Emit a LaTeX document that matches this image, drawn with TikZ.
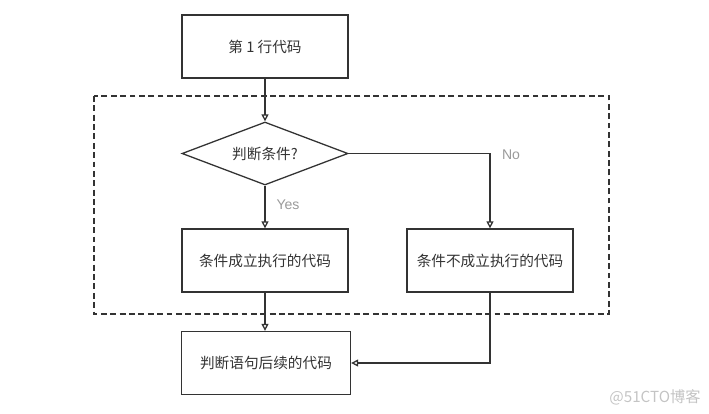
\documentclass[tikz,border=0pt]{standalone}
\usepackage{fontspec}
\newfontfamily\cjk{Noto Sans CJK SC}
\newfontfamily\latin{Liberation Sans}
\usetikzlibrary{shapes.geometric,arrows.meta}
\definecolor{linegray}{HTML}{333333}
\definecolor{labelgray}{HTML}{9A9A9A}
\definecolor{markgray}{HTML}{C4C4C4}
\begin{document}
\begin{tikzpicture}[x=0.03cm, y=-0.03cm,
		codebox/.style={draw=linegray, line width=1.1pt, minimum width=4.98cm, minimum height=1.89cm, font=\cjk\fontsize{12.5}{14}\selectfont, text=linegray},
		testbox/.style={diamond, aspect=2.63, draw=linegray, line width=1.1pt, minimum width=4.98cm, minimum height=1.89cm, inner sep=0pt, font=\cjk\fontsize{12.5}{14}\selectfont, text=linegray},
		flow/.style={draw=linegray, line width=1.1pt, -{Triangle[open, length=6pt, width=6pt]}},
		branch/.style={font=\latin\fontsize{12}{14}\selectfont, text=labelgray}]
		\useasboundingbox (0,0) rectangle (709,413);
		% the block that the condition covers
		\draw[linegray, line width=1pt, dash pattern=on 5pt off 3pt] (94,96) rectangle (609,314);
		\node[codebox] (first) at (265,46.5) {第 1 行代码};
		\node[testbox] (test) at (265,153.5) {判断条件?};
		\node[codebox] (yes) at (265,260.5) {条件成立执行的代码};
		\node[codebox] (no) at (490,260.5) {条件不成立执行的代码};
		\node[codebox, minimum width=5.07cm] (after) at (266,363) {判断语句后续的代码};
		\draw[flow] (first) -- (test);
		\draw[flow] (test) -- node[branch, right=6pt, pos=0.45] {Yes} (yes);
		\draw[flow] (test.east) -| (no.north);
		\node[branch] (nolabel) at (511,155) {No};
		\draw[flow] (yes.south) -- (after.north -| yes.south);
		\draw[flow] (no.south) |- (after.east);
		\node[font=\cjk\fontsize{13}{15}\selectfont, text=markgray] (mark) at (655,397) {@51CTO博客};
\end{tikzpicture}
\end{document}
